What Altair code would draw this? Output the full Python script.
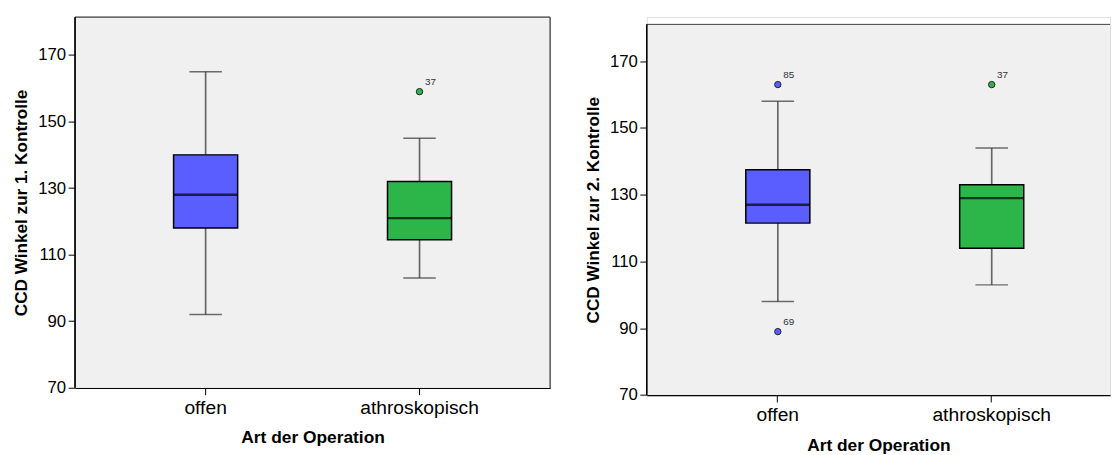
import altair as alt
import pandas as pd

groups = ["offen", "athroskopisch"]
colors = ["#5A5EFF", "#2CB548"]

# Panel 1: CCD Winkel zur 1. Kontrolle
p1_low = [92, 103]
p1_q1 = [118, 114.5]
p1_med = [128, 121]
p1_q3 = [140, 132]
p1_high = [165, 145]
p1_out_group = ["athroskopisch"]
p1_out_value = [159]
p1_out_label = ["37"]

# Panel 2: CCD Winkel zur 2. Kontrolle
p2_low = [98, 103]
p2_q1 = [121.5, 114]
p2_med = [127, 129]
p2_q3 = [137.5, 133]
p2_high = [158, 144]
p2_out_group = ["offen", "offen", "athroskopisch"]
p2_out_value = [163, 89, 163]
p2_out_label = ["85", "69", "37"]

y_ticks = [70, 90, 110, 130, 150, 170]
FONT = "Liberation Sans"
FRAME_H = 376


def panel(low, q1, med, q3, high, og, ov, ol, ytitle, width, pad_outer, align,
          right_border, top_gap, ymax):
    box = pd.DataFrame({"group": groups, "low": low, "q1": q1, "med": med, "q3": q3, "high": high})
    out = pd.DataFrame({"group": og, "value": ov, "label": ol})
    H = FRAME_H + top_gap

    xscale = alt.Scale(domain=groups, paddingInner=0, paddingOuter=pad_outer, align=align)
    xaxis = alt.Axis(title="Art der Operation", labelAngle=0, tickSize=7, tickColor="black",
                     domainColor="black", domainWidth=1.3, labelFontSize=19.5, labelPadding=4,
                     labelColor="black", labelFont=FONT, titleFont=FONT, titleFontSize=17.6,
                     titleFontWeight="bold", titleColor="black", titlePadding=12.5)
    yscale = alt.Scale(domain=[70, ymax], nice=False, zero=False)
    yaxis = alt.Axis(values=y_ticks, title=ytitle, grid=False, tickSize=7, tickColor="black",
                     domain=False, labelFontSize=17, labelPadding=2.5,
                     labelColor="black", labelFont=FONT, titleFont=FONT, titleFontSize=17.4,
                     titleFontWeight="bold", titleColor="black", titlePadding=7,
                     titleY=top_gap + FRAME_H / 2)

    X = alt.X("group:N", scale=xscale, axis=xaxis, sort=groups)

    def Y(f):
        return alt.Y(f + ":Q", scale=yscale, axis=yaxis, title=ytitle)

    color = alt.Color("group:N", scale=alt.Scale(domain=groups, range=colors), legend=None)

    base = alt.Chart(box)
    bg = base.mark_rect(color="#f0f0f0").encode(
        x=alt.value(0), x2=alt.value(width), y=alt.value(top_gap), y2=alt.value(H))
    whisk = base.mark_rule(color="#666666", strokeWidth=1.7).encode(x=X, y=Y("low"), y2="high:Q")
    cap_lo = base.mark_tick(size=33, thickness=1.5, color="#333333").encode(x=X, y=Y("low"))
    cap_hi = base.mark_tick(size=33, thickness=1.5, color="#333333").encode(x=X, y=Y("high"))
    bars = base.mark_bar(size=65, stroke="black", strokeWidth=1.5).encode(
        x=X, y=Y("q1"), y2="q3:Q", color=color)
    medl = base.mark_tick(size=65, thickness=2.4, color="black").encode(x=X, y=Y("med"))

    pts = alt.Chart(out).mark_point(filled=True, size=42, stroke="#222222", strokeWidth=1,
                                    opacity=1).encode(x=X, y=Y("value"), color=color)
    lbl = alt.Chart(out).mark_text(dx=11, dy=-10, fontSize=10, font=FONT, color="#333333").encode(
        x=X, y=Y("value"), text="label:N")

    top = base.mark_rule(color="#555555", strokeWidth=1).encode(
        x=alt.value(0), x2=alt.value(width), y=alt.value(top_gap))
    yline = base.mark_rule(color="black", strokeWidth=1.3).encode(
        x=alt.value(0), y=alt.value(top_gap), y2=alt.value(H))
    layers = [bg, whisk, cap_lo, cap_hi, bars, medl, pts, lbl, top, yline]
    if right_border:
        rb = base.mark_rule(color="#555555", strokeWidth=1).encode(
            x=alt.value(width), y=alt.value(top_gap), y2=alt.value(H))
        layers.append(rb)

    return alt.layer(*layers).properties(width=width, height=H)


left = panel(p1_low, p1_q1, p1_med, p1_q3, p1_high, p1_out_group, p1_out_value, p1_out_label,
             "CCD Winkel zur 1. Kontrolle", 482, 0.1105, 0.5, True, 0, 181.4)
right = panel(p2_low, p2_q1, p2_med, p2_q3, p2_high, p2_out_group, p2_out_value, p2_out_label,
              "CCD Winkel zur 2. Kontrolle", 470, 0.083, 0.68, False, 7.4, 183.2)

chart = alt.hconcat(left, right, spacing=33).properties(
    padding={"left": 4, "top": 4, "right": 0, "bottom": 0}
).configure_view(fill="white", stroke="transparent").configure(background="white")

chart.save("out.html", embed_options={"renderer": "svg", "actions": False})
